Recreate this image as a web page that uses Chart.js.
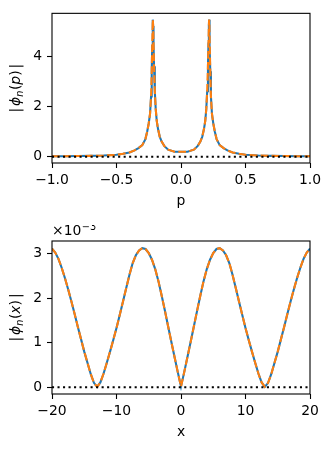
<!DOCTYPE html>
<html><head><meta charset="utf-8">
<script src="https://cdn.jsdelivr.net/npm/chart.js@4.4.1/dist/chart.umd.min.js"></script>
<style>
html,body{margin:0;padding:0;background:#fff;}
#wrap{position:relative;width:332px;height:449px;overflow:hidden;}
canvas{position:absolute;left:0;}
#c1{top:0;} #c2{top:225px;}
</style></head><body>
<div id="wrap">
<canvas id="c1" width="332" height="225"></canvas>
<canvas id="c2" width="332" height="224"></canvas>
</div>
<script>
// ---------- Top panel: |phi_n(p)| versus p ----------
const pValues = [-1.0, -0.9, -0.8, -0.7, -0.6, -0.5, -0.45, -0.4, -0.36, -0.33, -0.30, -0.276, -0.262, -0.25, -0.24, -0.232, -0.227, -0.223, -0.220, -0.218, -0.216, -0.213, -0.209, -0.203, -0.196, -0.188, -0.178, -0.165, -0.15, -0.13, -0.1, -0.05,
  0,
  0.05, 0.1, 0.13, 0.15, 0.165, 0.178, 0.188, 0.196, 0.203, 0.209, 0.213, 0.216, 0.218, 0.220, 0.223, 0.227, 0.232, 0.24, 0.25, 0.262, 0.276, 0.30, 0.33, 0.36, 0.4, 0.45, 0.5, 0.6, 0.7, 0.8, 0.9, 1.0];
const phiP = [0.017, 0.020, 0.025, 0.032, 0.045, 0.075, 0.115, 0.17, 0.25, 0.34, 0.46, 0.70, 1.00, 1.33, 1.70, 2.40, 3.40, 4.40, 5.20, 5.45, 5.20, 4.50, 3.60, 2.60, 1.90, 1.42, 1.10, 0.80, 0.60, 0.43, 0.28, 0.20,
  0.195,
  0.20, 0.28, 0.43, 0.60, 0.80, 1.10, 1.42, 1.90, 2.60, 3.60, 4.50, 5.20, 5.45, 5.20, 4.40, 3.40, 2.40, 1.70, 1.33, 1.00, 0.70, 0.46, 0.34, 0.25, 0.17, 0.115, 0.075, 0.045, 0.032, 0.025, 0.020, 0.017];
const pTicks = [-1.0, -0.5, 0.0, 0.5, 1.0];
const phiPTicks = [0, 2, 4];
const pRange = [-1, 1];
const phiPRange = [-0.25, 5.7];

// ---------- Bottom panel: |phi_n(x)| versus x (values in units of 1e-3) ----------
const xValues = [-20, -19.5, -19, -18.5, -18, -17.5, -17, -16.5, -16, -15.5, -15, -14.5, -14, -13.5, -13, -12.5, -12, -11.5, -11, -10.5, -10, -9.5, -9, -8.5, -8, -7.5, -7, -6.5, -6, -5.5, -5, -4.5, -4, -3.5, -3, -2.5, -2, -1.5, -1, -0.5,
  0,
  0.5, 1, 1.5, 2, 2.5, 3, 3.5, 4, 4.5, 5, 5.5, 6, 6.5, 7, 7.5, 8, 8.5, 9, 9.5, 10, 10.5, 11, 11.5, 12, 12.5, 13, 13.5, 14, 14.5, 15, 15.5, 16, 16.5, 17, 17.5, 18, 18.5, 19, 19.5, 20];
const phiX = [3.11, 3.02, 2.88, 2.68, 2.45, 2.20, 1.93, 1.65, 1.36, 1.08, 0.80, 0.55, 0.30, 0.10, 0.01, 0.11, 0.31, 0.55, 0.80, 1.06, 1.33, 1.62, 1.92, 2.22, 2.52, 2.78, 2.96, 3.07, 3.12, 3.10, 3.01, 2.86, 2.65, 2.38, 2.06, 1.72, 1.37, 1.02, 0.68, 0.34,
  0.02,
  0.34, 0.68, 1.02, 1.37, 1.72, 2.06, 2.38, 2.65, 2.86, 3.01, 3.10, 3.12, 3.07, 2.96, 2.78, 2.52, 2.22, 1.92, 1.62, 1.33, 1.06, 0.80, 0.55, 0.31, 0.11, 0.01, 0.10, 0.30, 0.55, 0.80, 1.08, 1.36, 1.65, 1.93, 2.20, 2.45, 2.68, 2.88, 3.02, 3.11];
const xTicks = [-20, -10, 0, 10, 20];
const phiXTicks = [0, 1, 2, 3];
const xRange = [-20, 20];
const phiXRange = [-0.15, 3.28];
const phiXExponent = '\u22123';

// ---------- styling ----------
const FONT = 'DejaVu Sans';
const FS = 13.9;
const BLUE = '#1f77b4', ORANGE = '#ff7f0e';
const LW = 2.08;

function fmt(v, dec) {
  const s = Math.abs(v).toFixed(dec);
  return (v < 0 && Math.abs(v) > 1e-12 ? '\u2212' : '') + s;
}

function yLabelPlugin(varName, extra) {
  return {
    id: 'decor',
    afterDraw(chart) {
      const ctx = chart.ctx, a = chart.chartArea;
      ctx.save();
      // frame
      ctx.strokeStyle = '#000'; ctx.lineWidth = 1.1;
      ctx.strokeRect(a.left, a.top, a.right - a.left, a.bottom - a.top);
      // y label (mathtext-like)
      const big = FS, small = FS * 0.7, gap = 2;
      const parts = [
        {t: '|', f: `${big}px "${FONT}"`, dy: 0, after: gap},
        {t: '\u03d5', f: `italic ${big}px "${FONT}"`, dy: 0, after: 0},
        {t: 'n', f: `italic ${small}px "${FONT}"`, dy: 3, after: 0.5},
        {t: '(', f: `${big}px "${FONT}"`, dy: 0, after: 0},
        {t: varName, f: `italic ${big}px "${FONT}"`, dy: 0, after: 0},
        {t: ')', f: `${big}px "${FONT}"`, dy: 0, after: gap},
        {t: '|', f: `${big}px "${FONT}"`, dy: 0, after: 0}
      ];
      let total = 0;
      parts.forEach(p => { ctx.font = p.f; p.w = ctx.measureText(p.t).width; total += p.w + p.after; });
      ctx.translate(19.5, (a.top + a.bottom) / 2);
      ctx.rotate(-Math.PI / 2);
      ctx.fillStyle = '#000'; ctx.textBaseline = 'alphabetic'; ctx.textAlign = 'left';
      let x = -total / 2;
      parts.forEach(p => { ctx.font = p.f; ctx.fillText(p.t, x, p.dy); x += p.w + p.after; });
      ctx.restore();
      // x label
      ctx.save();
      ctx.fillStyle = '#000'; ctx.font = `${big}px "${FONT}"`;
      ctx.textAlign = 'center'; ctx.textBaseline = 'alphabetic';
      ctx.fillText(varName, (a.left + a.right) / 2, a.bottom + 41.5);
      if (extra) extra(ctx, a);
      ctx.restore();
    }
  };
}

function makeChart(id, xs, ys, xr, yr, xt, yt, xdec, ydec, xAxisH, padTop, varName, extra) {
  const pts = xs.map((v, i) => ({x: v, y: ys[i]}));
  return new Chart(document.getElementById(id), {
    type: 'line',
    data: {
      datasets: [
        {data: pts, borderColor: BLUE, borderWidth: LW, pointRadius: 0, tension: 0, fill: false, order: 3},
        {data: pts, borderColor: ORANGE, borderWidth: LW, borderDash: [7.7, 3.3], pointRadius: 0, tension: 0, fill: false, order: 2},
        {data: [{x: xr[0], y: 0}, {x: xr[1], y: 0}], borderColor: '#000', borderWidth: LW, borderDash: [2.08, 3.43], pointRadius: 0, fill: false, order: 1}
      ]
    },
    options: {
      responsive: false, animation: false, events: [],
      layout: {padding: {left: 0, right: 22, top: padTop, bottom: 0}},
      plugins: {legend: {display: false}, tooltip: {enabled: false}},
      scales: {
        x: {
          type: 'linear', min: xr[0], max: xr[1],
          afterBuildTicks: s => { s.ticks = xt.map(v => ({value: v})); },
          afterFit: s => { s.height = xAxisH; },
          ticks: {callback: v => fmt(v, xdec), font: {family: FONT, size: FS}, color: '#000', maxRotation: 0, autoSkip: false, padding: 4},
          grid: {drawOnChartArea: false, drawTicks: true, tickLength: 5, tickWidth: 1.1, tickColor: '#000'},
          border: {display: false}
        },
        y: {
          type: 'linear', min: yr[0], max: yr[1],
          afterBuildTicks: s => { s.ticks = yt.map(v => ({value: v})); },
          afterFit: s => { s.width = 52; },
          ticks: {callback: v => fmt(v, ydec), font: {family: FONT, size: FS}, color: '#000', padding: 5},
          grid: {drawOnChartArea: false, drawTicks: true, tickLength: 5, tickWidth: 1.1, tickColor: '#000'},
          border: {display: false}
        }
      }
    },
    plugins: [yLabelPlugin(varName, extra)]
  });
}

makeChart('c1', pValues, phiP, pRange, phiPRange, pTicks, phiPTicks, 1, 0, 62, 10, 'p', null);
makeChart('c2', xValues, phiX, xRange, phiXRange, xTicks, phiXTicks, 0, 0, 55, 16, 'x', (ctx, a) => {
  ctx.textAlign = 'left'; ctx.textBaseline = 'alphabetic';
  ctx.font = `${FS}px "${FONT}"`;
  const t = '\u00d710';
  ctx.fillText(t, a.left, a.top - 6);
  const w = ctx.measureText(t).width;
  ctx.font = `${FS * 0.7}px "${FONT}"`;
  ctx.fillText(phiXExponent, a.left + w + 0.5, a.top - 11.5);
});
</script>
</body></html>
